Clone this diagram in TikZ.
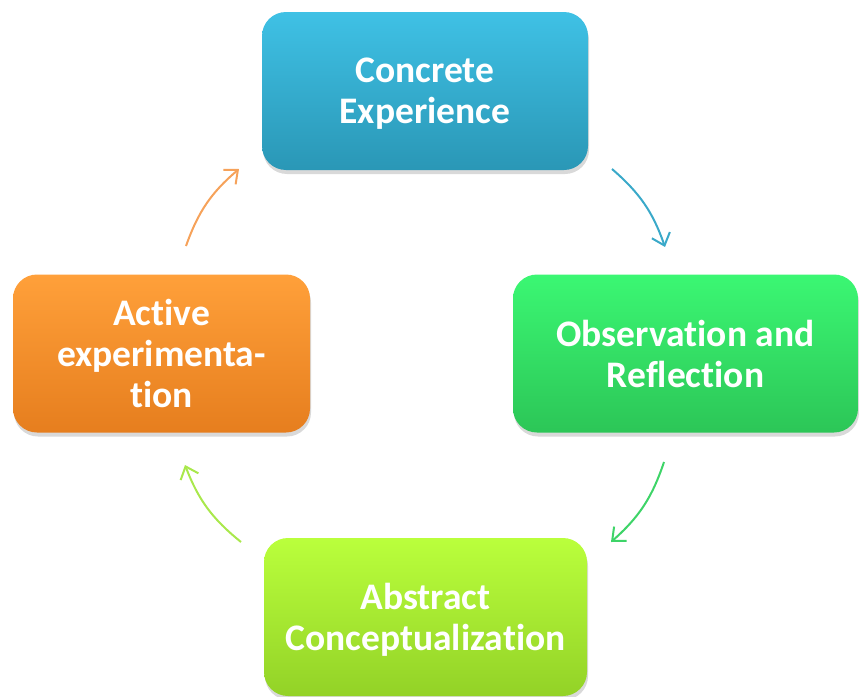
\documentclass[tikz,border=0pt]{standalone}
\usepackage{fontspec}
\setmainfont{Carlito}[Ligatures=NoCommon]
\usepackage{tikz}
\usetikzlibrary{arrows.meta, shadows}

\definecolor{ceTop}{HTML}{3FC1E5}
\definecolor{ceBottom}{HTML}{2A97B6}
\definecolor{orTop}{HTML}{3BF773}
\definecolor{orBottom}{HTML}{2CC657}
\definecolor{acTop}{HTML}{BAFF3C}
\definecolor{acBottom}{HTML}{93D227}
\definecolor{aeTop}{HTML}{FFA03A}
\definecolor{aeBottom}{HTML}{E67E1E}
\definecolor{ceArrow}{HTML}{3AA9C9}
\definecolor{orArrow}{HTML}{3ED468}
\definecolor{acArrow}{HTML}{A9E84C}
\definecolor{aeArrow}{HTML}{F6A25A}

\begin{document}
\begin{tikzpicture}[x=1pt, y=-1pt, >={Straight Barb[length=11pt, width=19pt]},
    stage/.style={rounded corners=24pt, minimum height=158pt, align=center,
      text=white, font=\fontsize{37.5}{41}\selectfont\bfseries, text depth=0pt,
      drop shadow={shadow xshift=1pt, shadow yshift=-4pt, opacity=0.3}},
    cycle/.style={->, line width=2pt, bend left=15}]
    \useasboundingbox (0, 0) rectangle (859, 696);

    % Stages
    \node[stage, minimum width=326pt, top color=ceTop, bottom color=ceBottom]
      (concrete) at (425, 91) {Concrete\\Experience};
    \node[stage, minimum width=345pt, top color=orTop, bottom color=orBottom]
      (observation) at (685.5, 353.5) {Observation and\\Reflection};
    \node[stage, minimum width=323pt, top color=acTop, bottom color=acBottom]
      (abstract) at (425.5, 617) {Abstract\\Conceptualization};
    \node[stage, minimum width=297pt, top color=aeTop, bottom color=aeBottom]
      (active) at (161.5, 353.5) {Active\\experimenta-\\tion};

    % Cycle ends
    \coordinate (ce-out) at (612, 169);
    \coordinate (or-in) at (665, 247);
    \coordinate (or-out) at (664, 462);
    \coordinate (ac-in) at (611, 542);
    \coordinate (ac-out) at (241, 542);
    \coordinate (ae-in) at (185, 465);
    \coordinate (ae-out) at (186, 246);
    \coordinate (ce-in) at (239, 169);

    % Cycle
    \draw[cycle, ceArrow] (ce-out) to (or-in);
    \draw[cycle, orArrow] (or-out) to (ac-in);
    \draw[cycle, acArrow] (ac-out) to (ae-in);
    \draw[cycle, aeArrow] (ae-out) to (ce-in);
\end{tikzpicture}
\end{document}
